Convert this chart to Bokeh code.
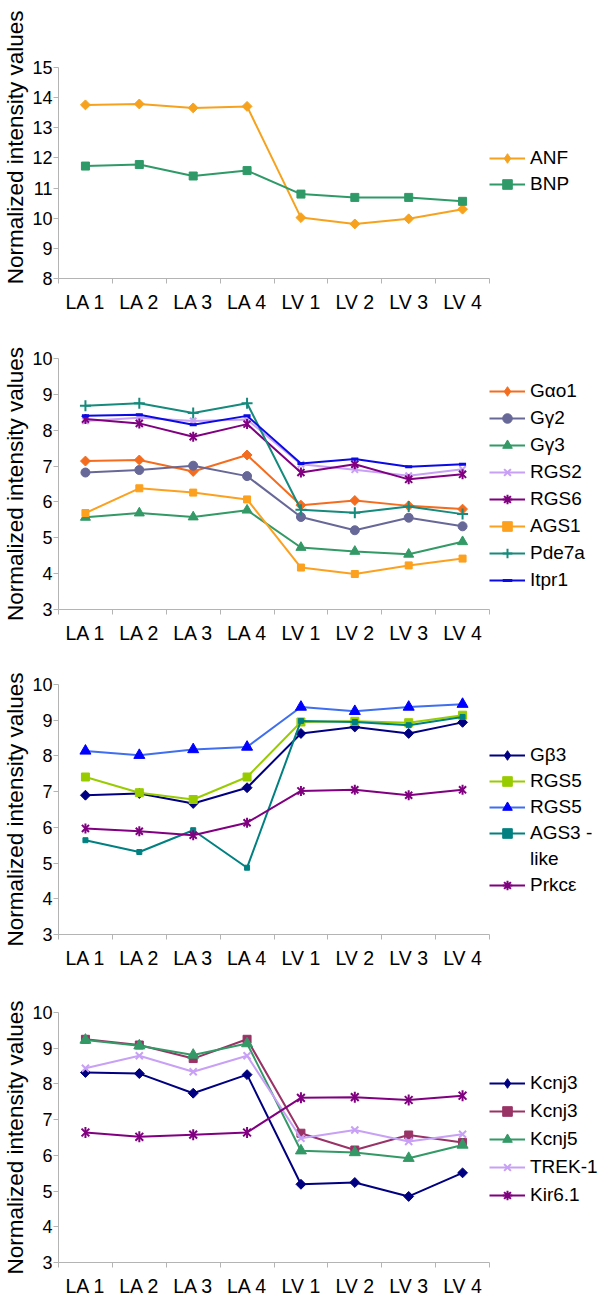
import numpy as np
from bokeh.plotting import figure
from bokeh.models import Range1d, FixedTicker, Legend, LegendItem, Title
from bokeh.layouts import column
from bokeh.embed import file_html
from bokeh.resources import INLINE

# ---------------- data ----------------
categories = ["LA 1", "LA 2", "LA 3", "LA 4", "LV 1", "LV 2", "LV 3", "LV 4"]

# panel 1
anf = [13.76, 13.79, 13.66, 13.71, 10.02, 9.81, 9.98, 10.30]
bnp = [11.73, 11.78, 11.40, 11.58, 10.80, 10.69, 10.69, 10.56]

# panel 2
gao1 = [7.14, 7.17, 6.85, 7.31, 5.91, 6.04, 5.89, 5.80]
gg2 = [6.82, 6.89, 7.01, 6.72, 5.58, 5.21, 5.56, 5.32]
gg3 = [5.57, 5.69, 5.58, 5.77, 4.73, 4.62, 4.54, 4.89]
rgs2 = [8.26, 8.35, 8.26, 8.30, 7.05, 6.90, 6.73, 6.91]
rgs6 = [8.31, 8.19, 7.82, 8.17, 6.82, 7.05, 6.63, 6.77]
ags1 = [5.69, 6.38, 6.26, 6.07, 4.17, 3.99, 4.23, 4.42]
pde7a = [8.68, 8.75, 8.48, 8.75, 5.78, 5.70, 5.87, 5.66]
itpr1 = [8.40, 8.43, 8.15, 8.40, 7.07, 7.20, 6.98, 7.05]

# panel 3
gb3 = [6.90, 6.95, 6.67, 7.11, 8.63, 8.81, 8.63, 8.94]
rgs5_a = [7.41, 6.97, 6.78, 7.41, 8.95, 8.97, 8.93, 9.14]
rgs5_b = [8.14, 8.02, 8.18, 8.25, 9.37, 9.25, 9.37, 9.45]
ags3 = [5.64, 5.31, 5.92, 4.87, 8.98, 8.95, 8.86, 9.09]
prkce = [5.97, 5.89, 5.78, 6.13, 7.02, 7.05, 6.90, 7.05]

# panel 4
kcnj3_a = [8.32, 8.29, 7.74, 8.26, 5.19, 5.24, 4.85, 5.51]
kcnj3_b = [9.25, 9.09, 8.71, 9.25, 6.62, 6.15, 6.57, 6.36]
kcnj5 = [9.23, 9.07, 8.81, 9.13, 6.13, 6.08, 5.92, 6.29]
trek1 = [8.44, 8.79, 8.34, 8.79, 6.48, 6.71, 6.39, 6.59]
kir61 = [6.64, 6.52, 6.58, 6.64, 7.61, 7.63, 7.55, 7.67]

# ---------------- styling ----------------
FONT = "Liberation Sans"
FRAME_W = 431
LEFT = 58
RIGHT = 110
AXIS_COLOR = "#b4b4b4"
Y_TITLE = "Normalized intensity values"

xs = [i + 0.5 for i in range(len(categories))]


def add_series(p, ys, color, marker, size, marker_color=None, lw=2):
    """Returns (renderers shown in the legend)."""
    mc = marker_color or color
    line = p.line(xs, ys, line_color=color, line_width=lw)
    if marker == "diamond":
        p.scatter(xs, ys, marker="square", angle=np.pi / 4, size=size,
                  fill_color=mc, line_color=mc)
        # legend-only marker (zero size in the plot)
        leg = p.scatter(xs, ys, marker="diamond", size=0, fill_color=mc, line_color=mc)
        return [line, leg]
    if marker == "star":
        p.scatter(xs, ys, marker="x", size=size, line_color=mc, line_width=2)
        p.scatter(xs, ys, marker="dash", angle=np.pi / 2, size=size,
                  line_color=mc, line_width=2)
        leg = p.scatter(xs, ys, marker="asterisk", size=0, line_color=mc, line_width=2)
        return [line, leg]
    if marker in ("x", "cross"):
        m = p.scatter(xs, ys, marker=marker, size=size, line_color=mc, line_width=2)
    elif marker == "dash":
        m = p.scatter(xs, ys, marker="dash", size=size, line_color=mc, line_width=3)
    else:
        m = p.scatter(xs, ys, marker=marker, size=size, fill_color=mc, line_color=mc)
    return [line, m]


def make_panel(y0, y1, frame_h, top, bottom, series, legend_y, spacing,
               title_align="center", title_offset=0):
    p = figure(frame_width=FRAME_W, frame_height=frame_h,
               x_range=Range1d(0, len(categories)), y_range=Range1d(y0, y1),
               output_backend="svg", toolbar_location=None,
               min_border_left=LEFT, min_border_right=RIGHT,
               min_border_top=top, min_border_bottom=bottom,
               background_fill_color="white", border_fill_color="white")
    p.xgrid.visible = False
    p.ygrid.visible = False
    p.outline_line_color = None

    xa = p.xaxis[0]
    xa.ticker = FixedTicker(ticks=xs, minor_ticks=list(range(len(categories) + 1)))
    xa.major_label_overrides = {x: c for x, c in zip(xs, categories)}
    xa.major_tick_out = 0
    xa.major_tick_in = 0
    xa.minor_tick_out = 5
    xa.minor_tick_in = 0
    xa.major_label_standoff = 7
    xa.axis_line_color = AXIS_COLOR
    xa.minor_tick_line_color = AXIS_COLOR
    xa.major_label_text_font = FONT
    xa.major_label_text_font_size = "19.5px"
    xa.major_label_text_color = "black"

    ya = p.yaxis[0]
    ya.ticker = FixedTicker(ticks=list(range(y0, y1 + 1)))
    ya.major_tick_out = 5
    ya.major_tick_in = 0
    ya.minor_tick_out = 0
    ya.minor_tick_in = 0
    ya.major_label_standoff = 1
    ya.axis_line_color = AXIS_COLOR
    ya.major_tick_line_color = AXIS_COLOR
    ya.major_label_text_font = FONT
    ya.major_label_text_font_size = "18px"
    ya.major_label_text_color = "black"

    t = Title(text=Y_TITLE, align=title_align, offset=title_offset,
              vertical_align="top",
              text_font=FONT, text_font_size="22.5px", text_font_style="normal",
              text_color="black", standoff=0)
    p.add_layout(t, "left")

    items = []
    for s in series:
        label, ys, color, marker, size = s[:5]
        mc = s[5] if len(s) > 5 else None
        if ys is None:
            dummy = p.line([], [], line_alpha=0)
            items.append(LegendItem(label=label, renderers=[dummy]))
        else:
            rs = add_series(p, ys, color, marker, size, mc)
            items.append(LegendItem(label=label, renderers=rs))

    legend = Legend(items=items, location=(0, legend_y), orientation="vertical",
                    glyph_width=36, glyph_height=24, label_height=24, label_standoff=5,
                    spacing=spacing, padding=0, margin=0,
                    border_line_alpha=0, background_fill_alpha=0,
                    label_text_font=FONT, label_text_font_size="19px",
                    label_text_color="black", click_policy="none")
    p.add_layout(legend, "right")
    return p


p1 = make_panel(8, 15, 211, 67, 44, [
    ("ANF", anf, "#f6a21e", "diamond", 7),
    ("BNP", bnp, "#2f9a68", "square", 8),
], legend_y=82, spacing=2, title_align="right", title_offset=-57)

p2 = make_panel(3, 10, 251, 36, 39, [
    ("G\u03b1o1", gao1, "#f46d1f", "diamond", 7),
    ("G\u03b32", gg2, "#686898", "circle", 9),
    ("G\u03b33", gg3, "#339966", "triangle", 10),
    ("RGS2", rgs2, "#c8a0f5", "x", 9),
    ("RGS6", rgs6, "#800080", "star", 10),
    ("AGS1", ags1, "#fca01f", "square", 7),
    ("Pde7a", pde7a, "#168a7c", "cross", 11),
    ("Itpr1", itpr1, "#0a0ae6", "dash", 7),
], legend_y=17, spacing=3)

p3 = make_panel(3, 10, 250, 36, 41, [
    ("G\u03b23", gb3, "#000080", "diamond", 7),
    ("RGS5", rgs5_a, "#99cc00", "square", 8),
    ("RGS5", rgs5_b, "#3f6ff0", "triangle", 11, "#0000ff"),
    ("AGS3 -", ags3, "#008080", "square", 5),
    ("like", None, None, None, None),
    ("Prkc\u03b5", prkce, "#800080", "star", 10),
], legend_y=37, spacing=2)

p4 = make_panel(3, 10, 250, 37, 43, [
    ("Kcnj3", kcnj3_a, "#000080", "diamond", 7),
    ("Kcnj3", kcnj3_b, "#993366", "square", 8),
    ("Kcnj5", kcnj5, "#339966", "triangle", 11),
    ("TREK-1", trek1, "#c8a0f5", "x", 10),
    ("Kir6.1", kir61, "#800080", "star", 11),
], legend_y=55, spacing=4)

layout = column(p1, p2, p3, p4, spacing=0)
open("out.html", "w").write(file_html(layout, INLINE))
